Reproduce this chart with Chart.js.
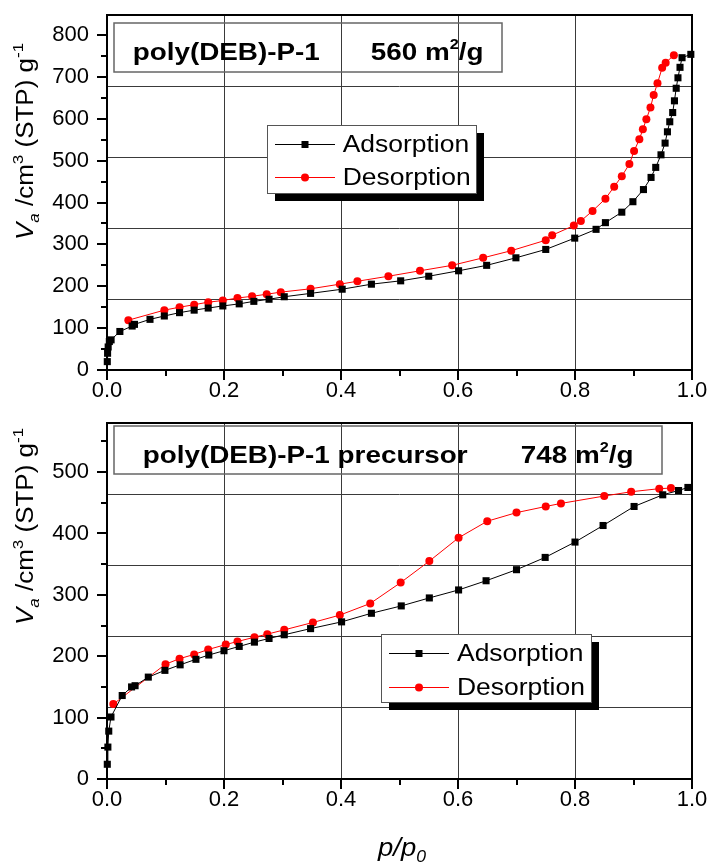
<!DOCTYPE html>
<html><head><meta charset="utf-8">
<script src="https://cdn.jsdelivr.net/npm/chart.js@4.4.0/dist/chart.umd.min.js"></script>
<style>
html,body{margin:0;padding:0;background:#fff;}
#wrap{position:relative;width:710px;height:866px;background:#fff;}
canvas{position:absolute;left:0;}
#c1{top:0;} #c2{top:405px;}
</style></head><body>
<div id="wrap"><canvas id="c1" width="710" height="405"></canvas><canvas id="c2" width="710" height="461"></canvas></div>
<script>
// ---------- data ----------
const seriesNames = ['Adsorption', 'Desorption'];
const xTickLabels = ['0.0', '0.2', '0.4', '0.6', '0.8', '1.0'];
const topTitle = ['poly(DEB)-P-1', '560 m', '2', '/g'];
const bottomTitle = ['poly(DEB)-P-1 precursor', '748 m', '2', '/g'];

const topAdsP = [0.0005,0.001,0.002,0.004,0.007,0.022,0.043,0.047,0.0735,0.098,0.124,0.149,0.173,0.198,0.226,0.251,0.277,0.303,0.348,0.402,0.452,0.502,0.55,0.601,0.649,0.699,0.750,0.7995,0.836,0.852,0.880,0.899,0.917,0.930,0.938,0.947,0.954,0.958,0.962,0.967,0.970,0.973,0.976,0.9795,0.983,0.998];
const topAdsV = [20,40,55,68,72,92,105,109,121,129,137,143,148,153,158,164,169,175,183,193,205,213,224,237,250,268,288,315,336,352,377,402,431,460,484,514,542,569,593,615,643,673,698,723,746,754];
const topDesP = [0.0365,0.098,0.124,0.149,0.173,0.198,0.223,0.248,0.273,0.297,0.348,0.398,0.428,0.481,0.535,0.590,0.643,0.691,0.750,0.761,0.798,0.810,0.830,0.852,0.867,0.880,0.893,0.901,0.910,0.916,0.922,0.929,0.9345,0.941,0.949,0.955,0.969];
const topDesV = [119,143,150,156,162,166,172,176,181,186,194,205,212,224,237,250,268,285,310,322,345,356,380,409,438,463,492,523,551,575,599,627,657,685,722,734,752];

const botAdsP = [0.0005,0.0015,0.003,0.0068,0.026,0.042,0.048,0.0706,0.099,0.125,0.152,0.174,0.200,0.226,0.252,0.277,0.303,0.348,0.401,0.452,0.503,0.551,0.601,0.648,0.700,0.749,0.800,0.848,0.901,0.950,0.977,0.993];
const botAdsV = [24,52,78,101,136,150,152,166,177,186,195,202,209,216,223,229,235,245,256,270,282,295,308,323,341,361,386,413,444,463,470,475];
const botDesP = [0.0108,0.100,0.124,0.149,0.173,0.203,0.223,0.252,0.274,0.303,0.352,0.398,0.450,0.502,0.551,0.601,0.650,0.700,0.750,0.776,0.850,0.896,0.944,0.964];
const botDesV = [122,187,196,203,211,219,224,231,236,243,255,267,286,320,355,393,420,434,444,449,461,468,473,474];

const topYMax = 848;
const botYMax = 580;

// ---------- helpers ----------
const FAM = '"Liberation Sans", Arial, sans-serif';
Chart.defaults.font.family = FAM;
function toXY(xs, ys) { return xs.map((x, i) => ({ x: x, y: ys[i] })); }

function drawRuns(ctx, runs, x, y, sx) {
  let cx = 0;
  ctx.save();
  ctx.translate(x, y);
  ctx.scale(sx, 1);
  ctx.textBaseline = 'alphabetic';
  ctx.textAlign = 'left';
  for (const r of runs) {
    ctx.font = r.f;
    ctx.fillStyle = r.c || '#000';
    ctx.fillText(r.t, cx, r.dy || 0);
    cx += ctx.measureText(r.t).width;
  }
  ctx.restore();
}

function zeroPad(s) { s.paddingTop = 0; s.paddingBottom = 0; s.paddingLeft = 0; s.paddingRight = 0; }

const decorPlugin = {
  id: 'decor',
  afterDraw(chart, args, o) {
    const ctx = chart.ctx;
    const a = chart.chartArea;
    const xs = chart.scales.x, ys = chart.scales.y;
    ctx.save();
    // frame
    ctx.strokeStyle = '#000';
    ctx.lineWidth = 2;
    ctx.strokeRect(a.left, a.top, a.right - a.left, a.bottom - a.top);
    // major + minor ticks
    ctx.lineWidth = 2;
    ctx.beginPath();
    for (let i = 0; i <= 10; i++) {
      const px = Math.round(xs.getPixelForValue(i / 10));
      const len = (i % 2 === 0) ? 10 : 6;
      ctx.moveTo(px, a.bottom); ctx.lineTo(px, a.bottom + len);
    }
    for (let v = 0; v <= ys.max; v += 50) {
      const py = Math.round(ys.getPixelForValue(v));
      const len = (v % 100 === 0) ? 10 : 6;
      ctx.moveTo(a.left, py); ctx.lineTo(a.left - len, py);
    }
    ctx.stroke();

    // title box
    const tb = o.titleBox;
    ctx.strokeStyle = '#666';
    ctx.lineWidth = 1.5;
    ctx.strokeRect(tb.x, tb.y, tb.w, tb.h);
    const bf = 'bold 24px ' + FAM;
    drawRuns(ctx, [{ t: o.title[0], f: bf }], tb.t1x, tb.by, 1.16);
    drawRuns(ctx, [{ t: o.title[1], f: bf }, { t: o.title[2], f: 'bold 14px ' + FAM, dy: -11 }, { t: o.title[3], f: bf }], tb.t2x, tb.by, 1.16);

    // legend with drop shadow
    const lg = o.legend;
    ctx.fillStyle = '#000';
    ctx.fillRect(lg.x + 8, lg.y + 8, lg.w, lg.h);
    ctx.fillStyle = '#fff';
    ctx.fillRect(lg.x, lg.y, lg.w, lg.h);
    ctx.strokeStyle = '#555';
    ctx.lineWidth = 1;
    ctx.strokeRect(lg.x + 0.5, lg.y + 0.5, lg.w, lg.h);
    const ds = chart.data.datasets;
    for (let i = 0; i < 2; i++) {
      const ry = lg.rows[i];
      ctx.strokeStyle = ds[i].borderColor;
      ctx.lineWidth = 1;
      ctx.beginPath();
      ctx.moveTo(lg.l1, ry + 0.5); ctx.lineTo(lg.l2, ry + 0.5);
      ctx.stroke();
      const mx = (lg.l1 + lg.l2) / 2;
      ctx.fillStyle = ds[i].backgroundColor;
      if (i === 0) { ctx.fillRect(mx - 3.5, ry - 3, 7, 7); }
      else { ctx.beginPath(); ctx.arc(mx, ry + 0.5, 4, 0, Math.PI * 2); ctx.fill(); }
      drawRuns(ctx, [{ t: ds[i].label, f: '23px ' + FAM }], lg.tx, ry + 8, 1.15);
    }

    // y axis title (rotated)
    ctx.save();
    ctx.translate(o.yTitle.x, o.yTitle.y);
    ctx.rotate(-Math.PI / 2);
    drawRuns(ctx, [
      { t: 'V', f: 'italic 23px ' + FAM },
      { t: 'a', f: 'italic 15px ' + FAM, dy: 6 },
      { t: ' /cm', f: '23px ' + FAM },
      { t: '3', f: '15px ' + FAM, dy: -10 },
      { t: ' (STP) g', f: '23px ' + FAM },
      { t: '-1', f: '15px ' + FAM, dy: -10 }
    ], 0, 0, 1.13);
    ctx.restore();

    // x axis title
    if (o.xTitle) {
      drawRuns(ctx, [
        { t: 'p/p', f: 'italic 25px ' + FAM },
        { t: '0', f: 'italic 16px ' + FAM, dy: 6 }
      ], o.xTitle.x, o.xTitle.y, 1.1);
    }
    ctx.restore();
  }
};

function buildChart(el, c) {
  return new Chart(el, {
    type: 'line',
    data: {
      datasets: [
        { label: seriesNames[0], data: toXY(c.adsP, c.adsV), borderColor: '#000000', backgroundColor: '#000000',
          borderWidth: 1, pointStyle: 'rect', pointRadius: 5, pointBorderWidth: 0, tension: 0, clip: 8 },
        { label: seriesNames[1], data: toXY(c.desP, c.desV), borderColor: '#ff0000', backgroundColor: '#ff0000',
          borderWidth: 1, pointStyle: 'circle', pointRadius: 4, pointBorderWidth: 0, tension: 0, clip: 8 }
      ]
    },
    options: {
      responsive: false, animation: false, events: [],
      layout: { autoPadding: false, padding: { top: c.padTop, right: 18, left: 0, bottom: 0 } },
      plugins: { legend: { display: false }, tooltip: { enabled: false }, decor: c.decor },
      scales: {
        x: {
          type: 'linear', min: 0, max: 1, position: 'bottom',
          afterFit: s => { s.height = c.xAxisH; zeroPad(s); },
          ticks: { stepSize: 0.2, padding: 8, color: '#000', font: { size: 22 }, maxRotation: 0,
            callback: v => xTickLabels[Math.round(v / 0.2)] },
          grid: { drawTicks: false, lineWidth: 1,
            color: ctx => (ctx.tick && (Math.abs(ctx.tick.value) < 1e-6 || Math.abs(ctx.tick.value - 1) < 1e-6)) ? 'rgba(0,0,0,0)' : '#3a3a3a' },
          border: { display: false }
        },
        y: {
          type: 'linear', min: 0, max: c.yMax, position: 'left',
          afterFit: s => { s.width = 107; zeroPad(s); },
          ticks: { stepSize: 100, includeBounds: false, padding: 10, color: '#000', font: { size: 22 } },
          grid: { display: false },
          border: { display: false }
        },
        yg: {
          type: 'linear', min: 0, max: c.yMax, position: 'right',
          afterFit: s => { s.width = 0; zeroPad(s); },
          ticks: { display: false, count: 6 },
          grid: { drawTicks: false, lineWidth: 1,
            color: ctx => (ctx.tick && (ctx.tick.value <= 1e-6 || ctx.tick.value >= c.yMax - 1e-6)) ? 'rgba(0,0,0,0)' : '#3a3a3a' },
          border: { display: false }
        }
      }
    },
    plugins: [decorPlugin]
  });
}

buildChart(document.getElementById('c1'), {
  adsP: topAdsP, adsV: topAdsV, desP: topDesP, desV: topDesV,
  yMax: topYMax, padTop: 15, xAxisH: 35,
  decor: {
    title: topTitle,
    titleBox: { x: 114, y: 23, w: 388, h: 49, t1x: 132.7, t2x: 370.7, by: 60 },
    legend: { x: 267, y: 125, w: 209, h: 68, rows: [144, 177], l1: 275, l2: 335, tx: 342.7 },
    yTitle: { x: 33, y: 240 }
  }
});

buildChart(document.getElementById('c2'), {
  adsP: botAdsP, adsV: botAdsV, desP: botDesP, desV: botDesV,
  yMax: botYMax, padTop: 18, xAxisH: 87,
  decor: {
    title: bottomTitle,
    titleBox: { x: 114, y: 21, w: 548, h: 48, t1x: 142.7, t2x: 520.7, by: 58.3 },
    legend: { x: 381, y: 229, w: 210, h: 68, rows: [248, 282], l1: 389, l2: 449, tx: 457 },
    yTitle: { x: 33, y: 220 },
    xTitle: { x: 378, y: 451 }
  }
});
</script>
</body></html>
